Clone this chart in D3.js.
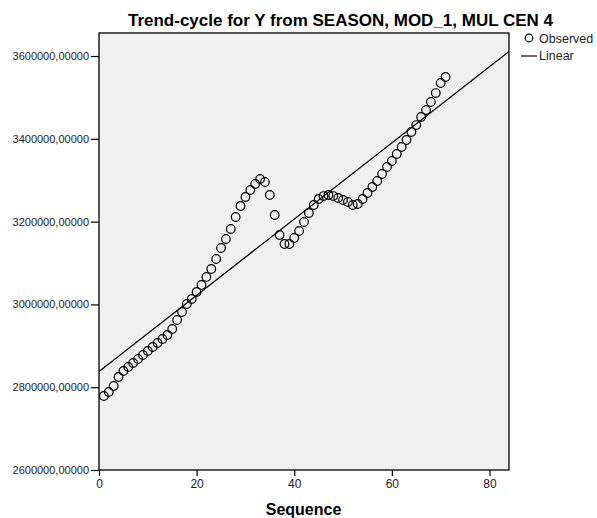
<!DOCTYPE html>
<html><head><meta charset="utf-8">
<script src="https://cdn.jsdelivr.net/npm/d3@7"></script>
<style>body{margin:0;background:#fff}svg{display:block}text{font-family:"Liberation Sans",Arial,sans-serif}</style>
</head><body>
<svg id="c" width="597" height="518"></svg>
<script>
const titleText = "Trend-cycle for Y from SEASON, MOD_1, MUL CEN 4";
const xLabel = "Sequence";
const sequence = d3.range(1, 72);
const observed = [
 2778750,2788400,2802900,2824600,2839100,2848800,2858500,2868100,2877800,2887400,
 2897100,2906800,2916400,2926100,2940600,2962300,2981700,3001000,3013000,3030000,
 3046900,3066200,3085500,3109700,3136200,3158000,3182100,3211100,3237700,3259400,
 3276300,3290800,3302900,3295700,3264300,3216000,3167600,3145900,3145900,3160400,
 3177300,3199000,3220800,3240100,3254600,3261800,3264300,3261800,3257000,3252200,
 3247400,3240100,3242500,3254600,3269100,3283600,3298100,3315000,3331900,3346400,
 3363300,3380200,3397100,3416400,3433300,3452700,3469600,3488900,3510600,3534800,
 3549300];
const linearX = [0, 84];
const linearY = [2837900, 3611100];
const xTicks = [0, 20, 40, 60, 80];
const yTicks = [2600000, 2800000, 3000000, 3200000, 3400000, 3600000];
const legendLabels = ["Observed", "Linear"];

const svg = d3.select("#c");
const L = 99, R = 509, T = 33, B = 470;
const x = d3.scaleLinear().domain([0, 84]).range([L, R]);
const y = d3.scaleLinear().domain([2600000, 3655600]).range([B, T]);

svg.append("rect").attr("x", L).attr("y", T).attr("width", R - L).attr("height", B - T)
  .attr("fill", "#f0f0f0").attr("stroke", "none");

const fmt = v => d3.format(".5f")(v).replace(".", ",");
const yAxis = svg.append("g").attr("transform", `translate(${L},0)`)
  .call(d3.axisLeft(y).tickValues(yTicks).tickSize(8).tickPadding(2).tickFormat(fmt));
const xAxis = svg.append("g").attr("transform", `translate(0,${B})`)
  .call(d3.axisBottom(x).tickValues(xTicks).tickSize(6).tickPadding(3).tickFormat(d3.format("d")));
[yAxis, xAxis].forEach(g => {
  g.select(".domain").remove();
  g.selectAll("line").attr("stroke", "#000").attr("stroke-width", 1.2);
  g.selectAll("text").attr("fill", "#222");
});
yAxis.selectAll("text").style("font-size", "11px");
xAxis.selectAll("text").style("font-size", "12px");

svg.append("clipPath").attr("id", "clip").append("rect")
  .attr("x", L).attr("y", T).attr("width", R - L).attr("height", B - T);

svg.append("line").attr("clip-path", "url(#clip)")
  .attr("x1", x(linearX[0])).attr("y1", y(linearY[0]))
  .attr("x2", x(linearX[1])).attr("y2", y(linearY[1]))
  .attr("stroke", "#000").attr("stroke-width", 1.3);

svg.append("g").selectAll("circle").data(observed).join("circle")
  .attr("cx", (d, i) => x(sequence[i])).attr("cy", d => y(d)).attr("r", 4.3)
  .attr("fill", "none").attr("stroke", "#000").attr("stroke-width", 1.2);

svg.append("rect").attr("x", L).attr("y", T).attr("width", R - L).attr("height", B - T)
  .attr("fill", "none").attr("stroke", "#000").attr("stroke-width", 1.3);

svg.append("text").attr("x", 340.5).attr("y", 26).attr("text-anchor", "middle")
  .style("font-size", "17px").style("font-weight", "bold").attr("fill", "#000").text(titleText);
svg.append("text").attr("x", 303.5).attr("y", 515).attr("text-anchor", "middle")
  .style("font-size", "16px").style("font-weight", "bold").attr("fill", "#000").text(xLabel);

svg.append("circle").attr("cx", 529).attr("cy", 38).attr("r", 3.8)
  .attr("fill", "none").attr("stroke", "#000").attr("stroke-width", 1.2);
svg.append("text").attr("x", 539).attr("y", 43).style("font-size", "12.5px").attr("fill", "#222").text(legendLabels[0]);
svg.append("line").attr("x1", 521).attr("x2", 537).attr("y1", 56).attr("y2", 56).attr("stroke", "#000").attr("stroke-width", 1.2);
svg.append("text").attr("x", 539).attr("y", 60).style("font-size", "12.5px").attr("fill", "#222").text(legendLabels[1]);
</script>
</body></html>
